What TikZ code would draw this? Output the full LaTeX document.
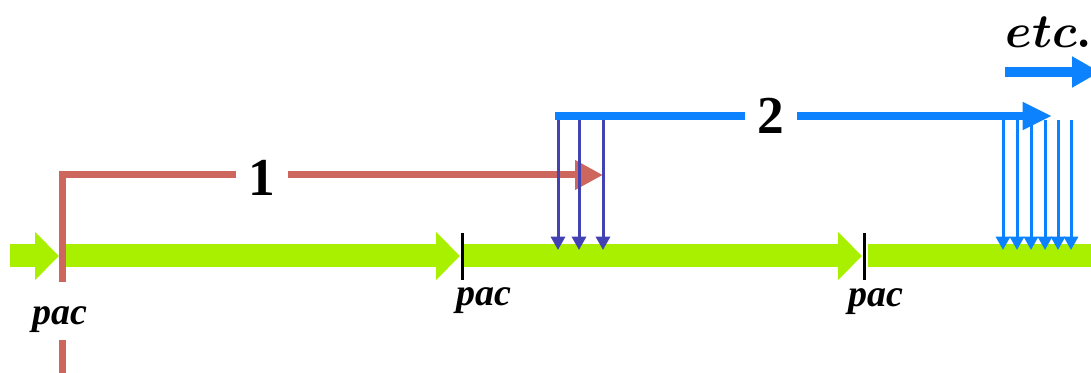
\RequirePackage{fix-cm}
\documentclass[tikz,border=0pt]{standalone}
\usepackage{fontspec}
\setmainfont{Liberation Serif}
\usetikzlibrary{arrows.meta}
\definecolor{barlime}{RGB}{168,240,0}
\definecolor{redline}{RGB}{205,102,92}
\definecolor{blueline}{RGB}{12,130,255}
\definecolor{indigoarr}{RGB}{66,66,178}
\tikzset{
  timebar/.style={line width=17.25pt, barlime, -{Triangle[length=18pt,width=35pt]}},
  flatbar/.style={line width=17.25pt, barlime},
  tick/.style={line width=2.25pt, black},
  redpath/.style={line width=5.25pt, redline},
  bluepath/.style={line width=6pt, blueline},
  hop/.style={line width=2.25pt, -{Triangle[length=10pt,width=10.5pt]}},
  paclabel/.style={font=\fontsize{28.5}{30}\selectfont\bfseries\itshape, inner sep=0pt},
  numlabel/.style={font=\fontsize{40}{42}\selectfont\bfseries, inner xsep=9pt, inner ysep=0pt},
  etclabel/.style={font=\fontsize{36}{40}\selectfont\boldmath, inner sep=0pt},
}
\begin{document}
\begin{tikzpicture}[x=0.75pt,y=-0.75pt]
  \clip (0,0) rectangle (1091,373);
  % time line, one arrow per packet slot
  \coordinate (g0) at (10,256);   \coordinate (g1) at (59,256);
  \coordinate (g2) at (62,256);   \coordinate (g3) at (460,256);
  \coordinate (g4) at (464,256);  \coordinate (g5) at (862,256);
  \coordinate (g6) at (868,256);  \coordinate (g7) at (1091,256);
  \draw[timebar] (g0) -- (g1);
  \draw[timebar] (g2) -- (g3);
  \draw[timebar] (g4) -- (g5);
  \draw[flatbar] (g6) -- (g7);
  \draw[tick] (462,233) -- (462,280);
  \draw[tick] (864,233) -- (864,280);
  \node[paclabel] (pac1) at (60,320) {pac};
  \node[paclabel] (pac2) at (484,301) {pac};
  \node[paclabel] (pac3) at (876,302) {pac};
  % first hop (red)
  \coordinate (redfoot) at (62,373);
  \coordinate (redgapbot) at (62,340);
  \coordinate (redgaptop) at (62,282);
  \coordinate (redcorner) at (62,175);
  \coordinate (redtip) at (603,175);
  \node[numlabel] (one) at (262,178) {1};
  \draw[redpath] (redfoot) -- (redgapbot);
  \draw[redpath] (redgaptop) -- (redcorner) -- (redcorner -| one.west);
  \draw[redpath,-{Triangle[length=21pt,width=21pt]}] (redcorner -| one.east) -- (redtip);
  % second hop (blue)
  \coordinate (bluestart) at (555,116);
  \coordinate (bluetip) at (1052,116);
  \node[numlabel] (two) at (771,116) {2};
  \foreach \x [count=\i] in {558,579,603} {
    \coordinate (dtop\i) at (\x,120);
    \coordinate (dbot\i) at (\x,250);
    \draw[hop,indigoarr] (dtop\i) -- (dbot\i);
  }
  \draw[bluepath] (bluestart) -- (bluestart -| two.west);
  \draw[bluepath,-{Triangle[length=22pt,width=19.5pt]}] (bluestart -| two.east) -- (bluetip);
  \foreach \x [count=\i] in {1003,1017,1031,1045,1058,1071} {
    \coordinate (ltop\i) at (\x,120);
    \coordinate (lbot\i) at (\x,250);
    \draw[hop,blueline] (ltop\i) -- (lbot\i);
  }
  % and so on
  \node[etclabel] (more) at (1049,32) {$etc.$};
  \coordinate (etcfrom) at (1005,72);
  \coordinate (etcto) at (1100,72);
  \draw[line width=7.5pt, blueline, -{Triangle[length=21pt,width=22pt]}] (etcfrom) -- (etcto);
\end{tikzpicture}
\end{document}
